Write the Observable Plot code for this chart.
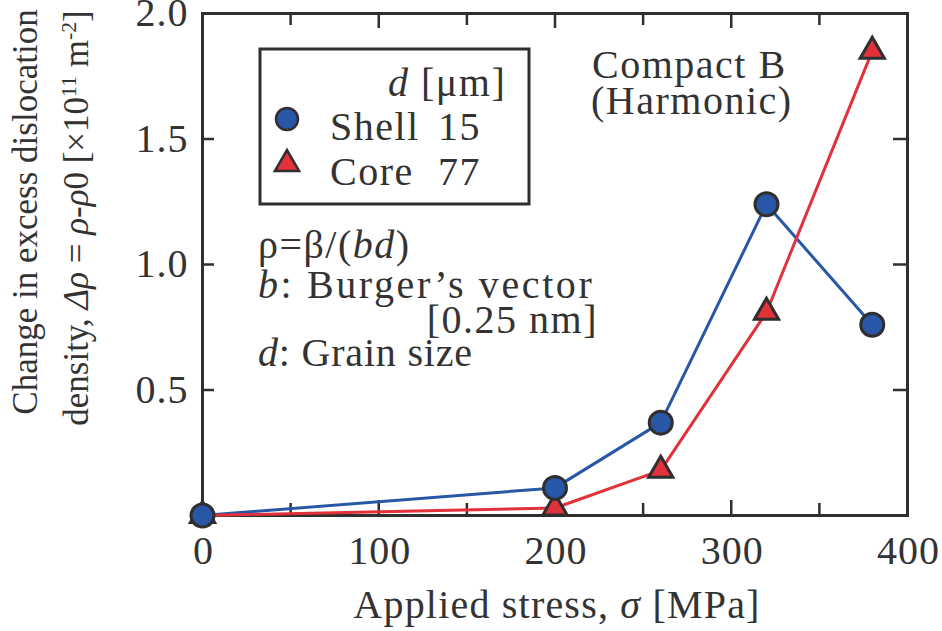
<!DOCTYPE html>
<html><head><meta charset="utf-8">
<script src="https://cdn.jsdelivr.net/npm/d3@7"></script>
<script src="https://cdn.jsdelivr.net/npm/@observablehq/plot@0.6"></script>
<style>
body{margin:0;background:#fff;}
#chart svg{display:block;}
#chart svg text{font-family:"Liberation Serif","Times New Roman",serif;fill:#333;}
</style></head><body><div id="chart"></div>
<script>
// ---- data ----
const stress = [0, 200, 260, 320, 380];
const shellRho = [0, 0.11, 0.37, 1.24, 0.76];
const coreRho = [0, 0.03, 0.18, 0.81, 1.85];
const seriesNames = ["Shell", "Core"];
const grainSizes = ["15", "77"];
const xTicks = [0, 100, 200, 300, 400];
const xMajorInner = [100, 200, 300];
const xMinorInner = [50, 150, 250, 350];
const yTickLabels = [0.5, 1.0, 1.5, 2.0];
const yInnerTicks = [0.5, 1.0, 1.5];

const blue = "#2757a6", red = "#e1323b", ink = "#2f2f2f";
const shell = stress.map((s, i) => ({stress: s, rho: shellRho[i]}));
const core = stress.map((s, i) => ({stress: s, rho: coreRho[i]}));

const W = 942, H = 631, mL = 202, mR = 35, mT = 13, mB = 116;
const innerH = H - mT - mB, innerW = W - mL - mR;
const font = '"Liberation Serif","Times New Roman",serif';

const plot = Plot.plot({
  width: W, height: H, marginLeft: mL, marginRight: mR, marginTop: mT, marginBottom: mB,
  style: {fontFamily: font, fontSize: "40px", color: "#333", background: "#fff", overflow: "visible"},
  x: {domain: [0, 400]},
  y: {domain: [0, 2]},
  marks: [
    Plot.axisX(xTicks, {anchor: "bottom", label: null, tickSize: 0, tickPadding: 20, dx: 1, fontSize: 40, fill: "#333", tickFormat: d => String(d)}),
    Plot.axisY(yTickLabels, {anchor: "left", label: null, tickSize: 0, tickPadding: 14, fontSize: 40, fill: "#333", tickFormat: d3.format(".1f")}),
    Plot.tickX(xMajorInner, {x: d => d, insetTop: innerH - 15, stroke: ink, strokeWidth: 2.5}),
    Plot.tickX(xMajorInner, {x: d => d, insetBottom: innerH - 15, stroke: ink, strokeWidth: 2.5}),
    Plot.tickX(xMinorInner, {x: d => d, insetTop: innerH - 12, stroke: ink, strokeWidth: 2.5}),
    Plot.tickX(xMinorInner, {x: d => d, insetBottom: innerH - 12, stroke: ink, strokeWidth: 2.5}),
    Plot.tickY(yInnerTicks, {y: d => d, insetRight: innerW - 12, stroke: ink, strokeWidth: 2.5}),
    Plot.tickY(yInnerTicks, {y: d => d, insetLeft: innerW - 14, stroke: ink, strokeWidth: 2.5}),
    Plot.frame({stroke: ink, strokeWidth: 3}),
    Plot.line(shell, {x: "stress", y: "rho", stroke: blue, strokeWidth: 3}),
    Plot.line(core, {x: "stress", y: "rho", stroke: red, strokeWidth: 3}),
    Plot.dot(core, {x: "stress", y: "rho", symbol: "triangle", r: 9, fill: red, stroke: ink, strokeWidth: 3}),
    Plot.dot(shell, {x: "stress", y: "rho", symbol: "circle", r: 11.5, fill: blue, stroke: ink, strokeWidth: 3})
  ]
});
document.getElementById("chart").appendChild(plot);

const svg = d3.select(plot);
svg.selectAll("text").style("letter-spacing", "1px");
const g = svg.append("g").attr("font-family", font).attr("fill", "#333");

function rich(x, y, parts, {size = 40, anchor = "start", spacing = 1.5, rotate = 0} = {}) {
  const t = g.append("text")
    .attr("transform", `translate(${x},${y})` + (rotate ? ` rotate(${rotate})` : ""))
    .attr("text-anchor", anchor)
    .style("font-size", size + "px")
    .style("letter-spacing", spacing + "px");
  for (const p of parts) {
    const [s, st] = Array.isArray(p) ? p : [p, ""];
    const ts = t.append("tspan").text(s);
    if (st.includes("i")) ts.style("font-style", "italic");
    if (st.includes("sup")) ts.attr("baseline-shift", "super").style("font-size", (size * 0.62) + "px");
  }
  return t;
}

// legend box
g.append("rect").attr("x", 260).attr("y", 49).attr("width", 269).attr("height", 155)
  .attr("fill", "none").attr("stroke", ink).attr("stroke-width", 3);
rich(388, 96, [["d", "i"], " [μm]"]);
const legendColors = [blue, red];
const legendSymbols = [d3.symbolCircle, d3.symbolTriangle];
const legendR = [11, 9];
const legendY = [119, 164];
const legendBase = [140, 185];
seriesNames.forEach((name, i) => {
  g.append("path").attr("d", d3.symbol(legendSymbols[i], Math.PI * legendR[i] ** 2)())
    .attr("transform", `translate(287,${legendY[i]})`)
    .attr("fill", legendColors[i]).attr("stroke", ink).attr("stroke-width", 2.5);
  rich(330, legendBase[i], [name]);
  rich(438, legendBase[i], [grainSizes[i]]);
});

rich(592, 78, ["Compact B"]);
rich(591, 114, ["(Harmonic)"]);

rich(258, 258, ["ρ=β/(", ["bd", "i"], ")"]);
rich(258, 298, [["b", "i"], ": Burger’s vector"], {spacing: 2.6});
rich(598, 333, ["[0.25 nm]"], {anchor: "end"});
rich(258, 366, [["d", "i"], ": Grain size"], {spacing: 0.8});

rich(557, 618, ["Applied stress, ", ["σ", "i"], " [MPa]"], {anchor: "middle", spacing: 1.2});

rich(37, 212, ["Change in excess dislocation"], {anchor: "middle", size: 35, spacing: 0, rotate: -90});
rich(88, 218, ["density, ", ["Δρ", "i"], " = ", ["ρ", "i"], "-", ["ρ", "i"], "0 [×10", ["11", "sup"], " m", ["-2", "sup"], "]"], {anchor: "middle", size: 35, spacing: 0, rotate: -90});
</script></body></html>
